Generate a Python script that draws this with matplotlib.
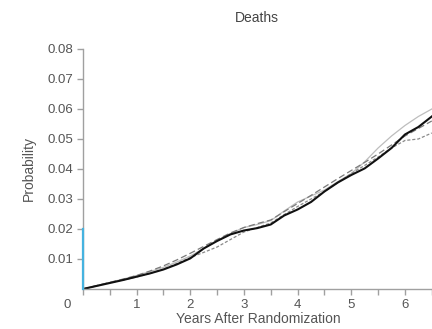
import matplotlib
matplotlib.use("Agg")
import matplotlib.pyplot as plt
from matplotlib.ticker import MultipleLocator

plt.rcParams['font.family'] = ['Liberation Sans', 'DejaVu Sans']

years = [0, 0.25, 0.5, 0.75, 1, 1.25, 1.5, 1.75, 2, 2.25, 2.5, 2.75, 3, 3.25,
         3.5, 3.75, 4, 4.25, 4.5, 4.75, 5, 5.25, 5.5, 5.75, 6, 6.25, 6.5]

solid_black = [0, 0.0010, 0.0020, 0.0030, 0.0041, 0.0052, 0.0065, 0.0082, 0.0102,
               0.0135, 0.0160, 0.0182, 0.0195, 0.0203, 0.0215, 0.0245, 0.0265,
               0.0290, 0.0325, 0.0355, 0.0380, 0.0402, 0.0435, 0.0470, 0.0515,
               0.0540, 0.0575]
long_dash = [0, 0.0011, 0.0022, 0.0033, 0.0045, 0.0060, 0.0077, 0.0097, 0.0119,
             0.0142, 0.0165, 0.0187, 0.0205, 0.0218, 0.0230, 0.0258, 0.0285,
             0.0312, 0.0340, 0.0368, 0.0395, 0.0422, 0.0450, 0.0480, 0.0510,
             0.0535, 0.0560]
light_solid = [0, 0.0011, 0.0022, 0.0033, 0.0045, 0.0058, 0.0072, 0.0090, 0.0110,
               0.0135, 0.0162, 0.0185, 0.0205, 0.0215, 0.0228, 0.0260, 0.0290,
               0.0310, 0.0330, 0.0358, 0.0385, 0.0424, 0.0470, 0.0510, 0.0545,
               0.0575, 0.0600]
short_dash = [0, 0.0010, 0.0020, 0.0030, 0.0040, 0.0052, 0.0066, 0.0085, 0.0105,
              0.0122, 0.0140, 0.0165, 0.0190, 0.0205, 0.0220, 0.0248, 0.0275,
              0.0300, 0.0325, 0.0355, 0.0385, 0.0412, 0.0440, 0.0470, 0.0495,
              0.0500, 0.0520]

yticks = [0.01, 0.02, 0.03, 0.04, 0.05, 0.06, 0.07, 0.08]
ytick_labels = ["0.01", "0.02", "0.03", "0.04", "0.05", "0.06", "0.07", "0.08"]
xticks = [1, 2, 3, 4, 5, 6]
xtick_labels = ["1", "2", "3", "4", "5", "6"]

fig = plt.figure(figsize=(4.32, 3.29), dpi=100)
ax = fig.add_axes([0.192, 0.1216, 0.81, 0.7295])

ax.plot(years, light_solid, color='#bdbdbd', lw=0.9)
ax.plot(years, short_dash, color='#8a8a8a', lw=0.9, ls=(0, (2.5, 1.5)))
ax.plot(years, long_dash, color='#7a7a7a', lw=0.9, ls=(0, (5, 2.5)))
ax.plot(years, solid_black, color='#111111', lw=1.5)

ax.set_xlim(0, 6.52)
ax.set_ylim(0, 0.08)

for s in ['top', 'right']:
    ax.spines[s].set_visible(False)
for s in ['left', 'bottom']:
    ax.spines[s].set_color('#a0a0a0')
    ax.spines[s].set_linewidth(1.0)

ax.set_yticks(yticks)
ax.set_yticklabels(ytick_labels)
ax.set_xticks(xticks)
ax.set_xticklabels(xtick_labels)
ax.xaxis.set_minor_locator(MultipleLocator(0.5))
ax.tick_params(axis='both', which='both', direction='out', length=4, width=1.0,
               color='#a0a0a0', labelcolor='#555555', labelsize=9.5, pad=3)

# blue highlight on the y axis from 0 to 0.02
ax.plot([0, 0], [0, 0.02], color='#45b3e0', lw=1.6, clip_on=False, zorder=5)
ax.yaxis.get_major_ticks()[1].tick1line.set_color('#45b3e0')

ax.annotate("0", xy=(0, 0), xytext=(-11, -7), textcoords='offset points',
            ha='center', va='top', fontsize=9.5, color='#555555')

ax.set_xlabel("Years After Randomization", fontsize=10, color='#555555', labelpad=1)
ax.set_ylabel("Probability", fontsize=10, color='#555555', labelpad=8)
fig.text(0.595, 0.945, "Deaths", ha='center', va='center', fontsize=10, color='#444444')

fig.savefig("out.png", dpi=100)
